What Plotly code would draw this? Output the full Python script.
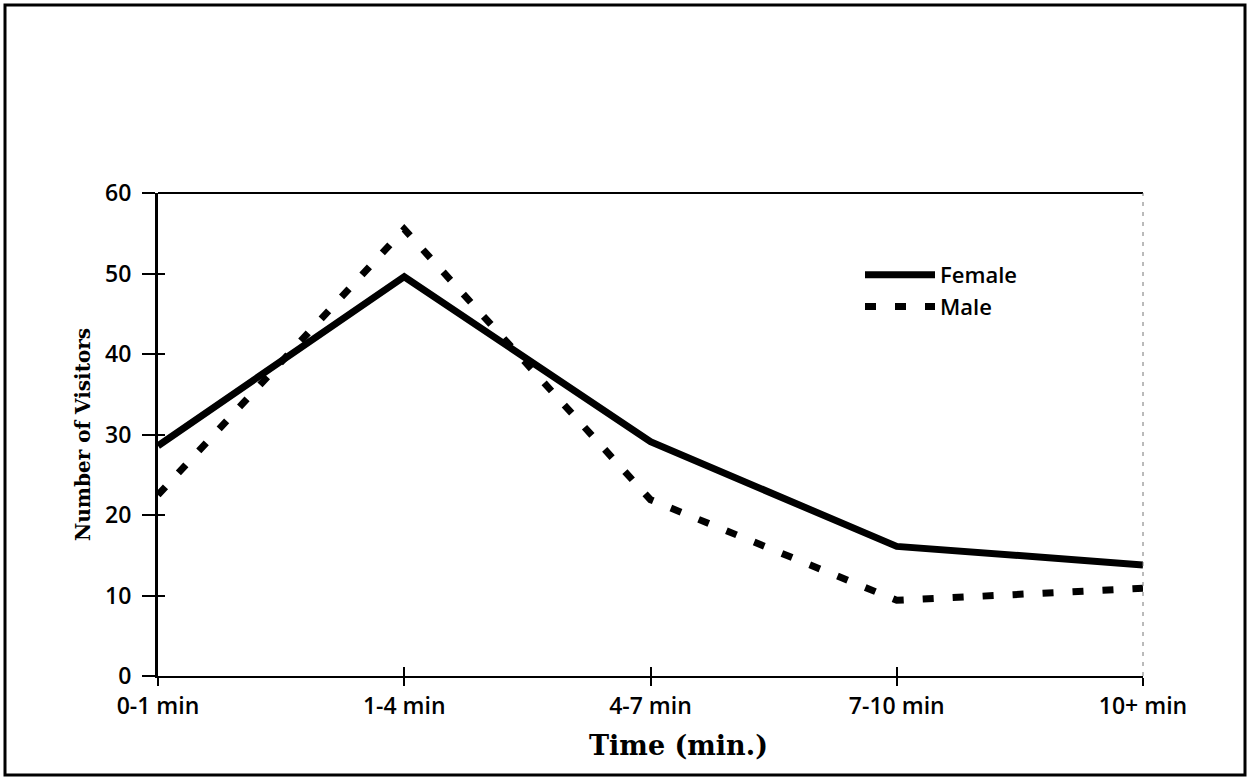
import plotly.graph_objects as go

categories = ["0-1 min", "1-4 min", "4-7 min", "7-10 min", "10+ min"]
female = [28.6, 49.6, 29.1, 16.1, 13.8]
male = [22.5, 55.5, 21.9, 9.4, 10.9]
y_ticks = [0, 10, 20, 30, 40, 50, 60]

x_pos = list(range(len(categories)))

W, H = 1251, 782
L, R, T, B = 158, 108, 193, 106
pw, ph = W - L - R, H - T - B

def px(x):
    return (x - L) / pw

def py(y):
    return (H - B - y) / ph

fig = go.Figure()
fig.add_trace(go.Scatter(x=x_pos, y=female, name="Female", mode="lines",
                         line=dict(color="black", width=7)))
fig.add_trace(go.Scatter(x=x_pos, y=male, name="Male", mode="lines",
                         line=dict(color="black", width=7, dash="11px,19px")))

tickfont = dict(family="Open Sans, DejaVu Sans, sans-serif", size=23, color="black", weight=600)

fig.update_layout(
    width=W, height=H,
    margin=dict(l=L, r=R, t=T, b=B),
    paper_bgcolor="white", plot_bgcolor="white",
    showlegend=True,
    legend=dict(x=px(860), y=py(254), xanchor="left", yanchor="top",
                bgcolor="rgba(0,0,0,0)",
                font=dict(family="Open Sans, DejaVu Sans, sans-serif", size=22, color="black", weight=600),
                itemwidth=70, tracegroupgap=0),
    xaxis=dict(range=[0, 4], tickmode="array", tickvals=x_pos, ticktext=categories,
               showgrid=False, zeroline=False, showline=True, linecolor="black", linewidth=2,
               ticks="outside", ticklen=8, tickwidth=2, tickcolor="black",
               tickfont=tickfont, mirror=False),
    yaxis=dict(range=[0, 60], tickmode="array", tickvals=y_ticks,
               showgrid=False, zeroline=False, showline=True, linecolor="black", linewidth=3,
               ticks="outside", ticklen=13, tickwidth=2, tickcolor="black",
               tickfont=tickfont, ticklabelstandoff=6,
               title=dict(text="<b>Number of Visitors</b>", font=dict(family="DejaVu Serif, serif", size=20, color="black"),
                          standoff=10)),
    xaxis2=dict(range=[0, 4], overlaying="x", side="bottom", tickmode="array", tickvals=x_pos,
                showticklabels=False, ticks="inside", ticklen=9, tickwidth=2, tickcolor="black",
                showgrid=False, zeroline=False, showline=False),
    yaxis2=dict(range=[0, 60], overlaying="y", side="left", tickmode="array", tickvals=y_ticks,
                showticklabels=False, ticks="inside", ticklen=7, tickwidth=2, tickcolor="black",
                showgrid=False, zeroline=False, showline=False),
)

# dummy trace to activate overlay axes
fig.add_trace(go.Scatter(x=[None], y=[None], xaxis="x2", yaxis="y2", showlegend=False, hoverinfo="skip"))

# x-axis title (slightly right of centre as in the original)
fig.add_annotation(text="<b>Time (min.)</b>", xref="paper", yref="paper",
                   x=px(678), y=py(745), xanchor="center", yanchor="middle", showarrow=False,
                   font=dict(family="DejaVu Serif, serif", size=27, color="black"))

# top border of plot area
fig.add_shape(type="line", xref="paper", yref="paper", x0=0, x1=1, y0=1, y1=1,
              line=dict(color="black", width=2))
# faint right border
fig.add_shape(type="line", xref="paper", yref="paper", x0=1, x1=1, y0=0, y1=1,
              line=dict(color="#777777", width=1, dash="4px,6px"))
# outer frame
fig.add_shape(type="rect", xref="paper", yref="paper",
              x0=px(5), x1=px(1245), y0=py(775), y1=py(5),
              line=dict(color="black", width=3), fillcolor="rgba(0,0,0,0)", layer="below")

fig.write_html("out.html")
